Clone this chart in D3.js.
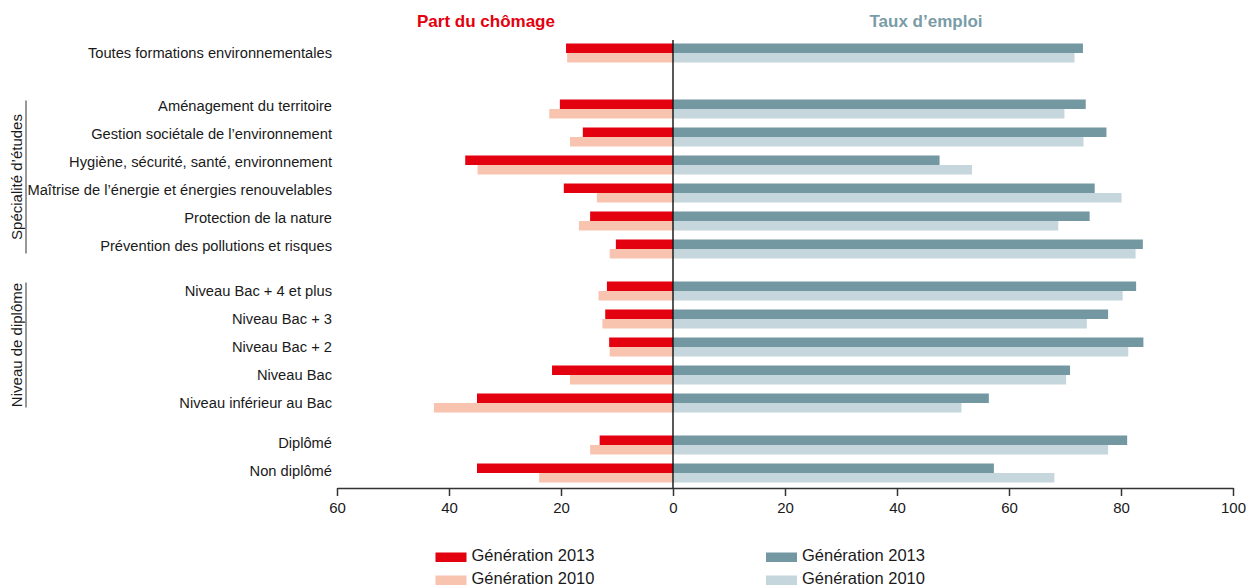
<!DOCTYPE html>
<html>
<head>
<meta charset="utf-8">
<script src="https://cdn.jsdelivr.net/npm/d3@7"></script>
<style>
  body { margin: 0; background: #fff; }
  svg text { font-family: "Liberation Sans", Arial, sans-serif; }
</style>
</head>
<body>
<svg id="chart"></svg>
<script>
// categories, top to bottom
const categories = [
  'Toutes formations environnementales',
  'Aménagement du territoire',
  'Gestion sociétale de l’environnement',
  'Hygiène, sécurité, santé, environnement',
  'Maîtrise de l’énergie et énergies renouvelables',
  'Protection de la nature',
  'Prévention des pollutions et risques',
  'Niveau Bac + 4 et plus',
  'Niveau Bac + 3',
  'Niveau Bac + 2',
  'Niveau Bac',
  'Niveau inférieur au Bac',
  'Diplômé',
  'Non diplômé'
];
const groupOf = [0, 1, 1, 1, 1, 1, 1, 2, 2, 2, 2, 2, 3, 3];
const groupTitles = ['', 'Spécialité d’études', 'Niveau de diplôme', ''];

// Part du chômage (%)
const chomage2013 = [19.1, 20.2, 16.1, 37.1, 19.5, 14.8, 10.2, 11.8, 12.1, 11.4, 21.6, 35.0, 13.1, 35.0];
const chomage2010 = [18.9, 22.1, 18.4, 34.9, 13.6, 16.8, 11.3, 13.3, 12.6, 11.3, 18.4, 42.7, 14.8, 23.9];
// Taux d'emploi (%)
const emploi2013 = [73.2, 73.7, 77.4, 47.6, 75.3, 74.4, 83.9, 82.7, 77.7, 84.0, 70.9, 56.4, 81.1, 57.3];
const emploi2010 = [71.7, 69.9, 73.3, 53.4, 80.1, 68.8, 82.6, 80.3, 73.9, 81.3, 70.2, 51.5, 77.7, 68.1];

const xTicks = [-60, -40, -20, 0, 20, 40, 60, 80, 100];
const legendLabels = ['Génération 2013', 'Génération 2010'];

const RED = '#e3000f', PINK = '#f8c4b0', TEAL = '#7398a2', LTEAL = '#c5d6dc';

const svg = d3.select('#chart')
  .attr('width', 1247)
  .attr('height', 587);

// extra space between groups (in rows), label nudge per group
const groupGap = [0, 1, 0.5, 0.5];
const labelShift = [0, -3, 0, -2];
let offset = 0;
const slots = categories.map((c, i) => {
  if (i > 0 && groupOf[i] !== groupOf[i - 1]) offset += groupGap[groupOf[i]];
  return i + offset;
});

const x = d3.scaleLinear().domain([-60, 100]).range([337, 1233]);
const y = d3.scaleLinear().domain([0, 15]).range([43.5, 43.5 + 15 * 28]);
const barH = 9.5;

const rows = categories.map((c, i) => ({
  name: c, slot: slots[i], group: groupOf[i],
  c13: chomage2013[i], c10: chomage2010[i], e13: emploi2013[i], e10: emploi2010[i]
}));

// bars
const series = [
  { key: 'c13', color: RED, sign: -1, off: 0 },
  { key: 'c10', color: PINK, sign: -1, off: barH },
  { key: 'e13', color: TEAL, sign: 1, off: 0 },
  { key: 'e10', color: LTEAL, sign: 1, off: barH }
];
series.forEach(s => {
  svg.append('g')
    .selectAll('rect')
    .data(rows)
    .enter()
    .append('rect')
    .attr('x', d => s.sign < 0 ? x(-d[s.key]) : x(0))
    .attr('width', d => Math.abs(x(s.sign * d[s.key]) - x(0)))
    .attr('y', d => y(d.slot) + s.off)
    .attr('height', barH)
    .attr('fill', s.color);
});

// category labels
svg.append('g')
  .selectAll('text')
  .data(rows)
  .enter()
  .append('text')
  .attr('x', 332)
  .attr('y', d => y(d.slot) + barH + labelShift[d.group])
  .attr('dy', '0.35em')
  .attr('text-anchor', 'end')
  .attr('font-size', '14.7px')
  .attr('fill', '#1a1a1a')
  .text(d => d.name);

// group brackets
groupTitles.forEach((t, g) => {
  if (!t) return;
  const idx = groupOf.map((v, i) => v === g ? i : -1).filter(i => i >= 0);
  const top = y(slots[idx[0]]) + 1;
  const bot = y(slots[idx[idx.length - 1]]) + 2 * barH - 5;
  svg.append('line')
    .attr('x1', 26).attr('x2', 26)
    .attr('y1', top).attr('y2', bot)
    .attr('stroke', '#333').attr('stroke-width', 1);
  svg.append('text')
    .attr('transform', `translate(17,${(top + bot) / 2}) rotate(-90)`)
    .attr('dy', '0.35em')
    .attr('text-anchor', 'middle')
    .attr('font-size', '15px')
    .attr('fill', '#1a1a1a')
    .text(t);
});

// zero line
svg.append('line')
  .attr('x1', x(0)).attr('x2', x(0))
  .attr('y1', 40).attr('y2', 488)
  .attr('stroke', '#111').attr('stroke-width', 1.4);

// x axis
const xAxis = d3.axisBottom(x)
  .tickValues(xTicks)
  .tickFormat(d => Math.abs(d))
  .tickSize(8)
  .tickSizeOuter(0)
  .tickPadding(6);
const ax = svg.append('g')
  .attr('transform', 'translate(0,488)')
  .call(xAxis);
ax.select('.domain').attr('stroke', '#333').attr('stroke-width', 1.5);
ax.selectAll('.tick line').attr('stroke', '#333').attr('stroke-width', 1.5);
ax.selectAll('.tick text')
  .attr('font-size', '15px')
  .attr('fill', '#1a1a1a')
  .style('font-family', '"Liberation Sans", Arial, sans-serif');

// titles
svg.append('text')
  .attr('x', 486).attr('y', 21).attr('dy', '0.35em')
  .attr('text-anchor', 'middle')
  .attr('font-size', '17px').attr('font-weight', 'bold')
  .attr('fill', RED)
  .text('Part du chômage');
svg.append('text')
  .attr('x', 926).attr('y', 21).attr('dy', '0.35em')
  .attr('text-anchor', 'middle')
  .attr('font-size', '17px').attr('font-weight', 'bold')
  .attr('fill', '#7a9ca7')
  .text('Taux d’emploi');

// legend
const legendItems = [
  { x: 435.5, y: 552.5, color: RED, label: legendLabels[0] },
  { x: 435.5, y: 575.5, color: PINK, label: legendLabels[1] },
  { x: 766, y: 552.5, color: TEAL, label: legendLabels[0] },
  { x: 766, y: 575.5, color: LTEAL, label: legendLabels[1] }
];
const lg = svg.append('g')
  .selectAll('g')
  .data(legendItems)
  .enter()
  .append('g')
  .attr('transform', d => `translate(${d.x},${d.y})`);
lg.append('rect')
  .attr('width', 31).attr('height', 9.5)
  .attr('fill', d => d.color);
lg.append('text')
  .attr('x', 36).attr('y', 8)
  .attr('font-size', '16.5px')
  .attr('fill', '#1a1a1a')
  .text(d => d.label);
</script>
</body>
</html>
